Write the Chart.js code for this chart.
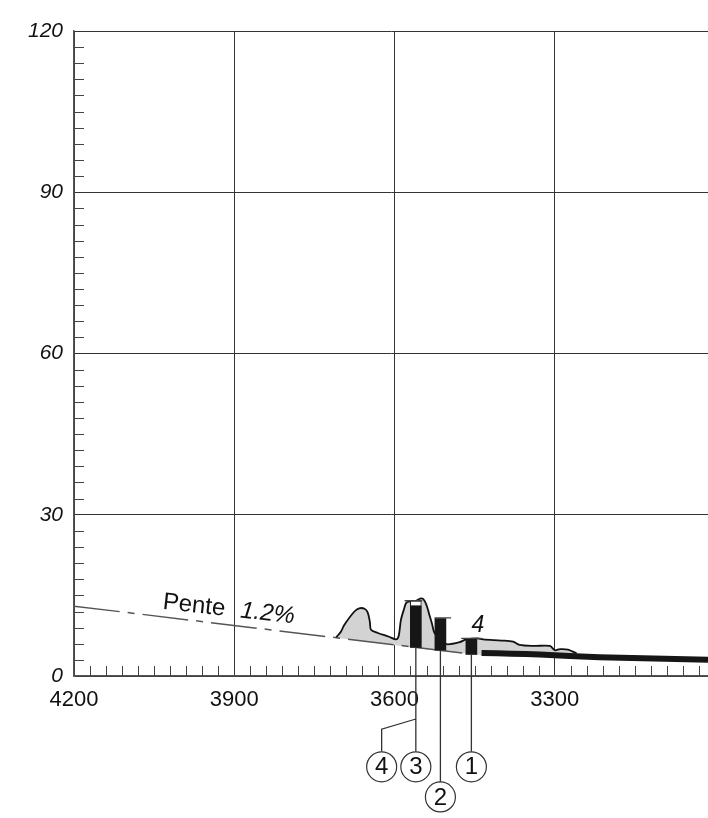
<!DOCTYPE html>
<html>
<head>
<meta charset="utf-8">
<script src="https://cdn.jsdelivr.net/npm/chart.js@4.4.1/dist/chart.umd.min.js"></script>
<style>
html, body { margin: 0; padding: 0; background: #fff; overflow: hidden; }
#wrap { position: relative; width: 708px; height: 818px; }
#profil { display: block; }
</style>
</head>
<body>
<div id="wrap"><canvas id="profil"></canvas></div>
<script>
// axes : distance (axe inversé) et hauteur
const xTicks = [3300, 3600, 3900, 4200];
const yTicks = [0, 30, 60, 90, 120];
const xRange = [3013, 4200];
const yRange = [0, 120];
const xMinorStep = 30;
const yMinorStep = 3;

// pente 1.2%
const penteX = [4200, 3465];
const penteY = [13.0, 4.2];

// profil, contour supérieur
const profilX = [3709, 3700, 3694, 3675, 3666, 3656, 3650, 3646, 3644, 3631, 3610, 3597, 3592, 3588, 3582, 3578, 3570, 3560, 3552, 3546, 3540, 3535, 3530, 3525, 3510, 3500, 3478, 3466, 3445, 3434, 3400, 3378, 3366, 3340, 3309, 3300, 3290, 3275, 3259];
const profilY = [7.2, 8.3, 9.5, 12.0, 12.6, 12.5, 11.8, 10.0, 8.6, 8.0, 7.3, 6.8, 7.5, 10.4, 12.5, 13.6, 13.9, 14.0, 14.4, 14.3, 13.2, 11.5, 9.8, 8.0, 6.3, 5.9, 6.3, 6.8, 7.0, 6.8, 6.6, 6.4, 5.8, 5.6, 5.6, 4.8, 5.0, 4.9, 4.2];
// profil, base (retour)
const baseX = [3259, 3437, 3709];
const baseY = [3.8, 3.9, 7.1];

// trait épais
const ligneX = [3437, 3380, 3328, 3216, 3013];
const ligneY = [4.3, 4.15, 4.0, 3.5, 3.0];

// colonnes 3, 2, 1
const colX = [3560, 3514, 3456];
const colBas = [5.3, 4.8, 4.0];
const colHaut = [13.0, 10.7, 6.9];
const capG = [3581, 3525, 3475];
const capD = [3548, 3494, 3437];
const capY = [14.0, 10.8, 7.0];
const blancBas = [13.0];
const blancHaut = [14.0];

// repères numérotés
const repereNum = ['4', '3', '2', '1'];
const repereX = [3624, 3560, 3514, 3456];
const repereY = [-16.9, -16.9, -22.5, -16.9];
const renvoiFin = [-14.1, -19.7, -14.1];
const renvoi4X = [3624, 3624, 3560];
const renvoi4Y = [-14.1, -9.9, -8.0];

// textes
const penteTexte = { x: 4035, y: 12.5 };
const quatreTexte = { x: 3444, y: 8.2 };

const pts = (xs, ys) => xs.map((v, i) => ({ x: v, y: ys[i] }));

const forme = pts(profilX, profilY).concat(pts(baseX, baseY));

const caps = [];
capG.forEach((g, i) => {
    caps.push({ x: g, y: capY[i] }, { x: capD[i], y: capY[i] }, { x: capD[i] - 1, y: null });
});

const renvois = [];
colX.forEach((v, i) => {
    renvois.push({ x: v, y: colBas[i] }, { x: v, y: renvoiFin[i] }, { x: v - 1, y: null });
});
renvois.push(...pts(renvoi4X, renvoi4Y));

const police = '"Liberation Sans", Arial, sans-serif';
const encre = '#111';

const minorTicks = {
    id: 'minorTicks',
    beforeDatasetsDraw(chart) {
        const { ctx, scales: { x, y } } = chart;
        ctx.save();
        ctx.strokeStyle = '#444';
        ctx.lineWidth = 1;
        ctx.beginPath();
        for (let v = Math.ceil(x.min / xMinorStep) * xMinorStep; v <= x.max; v += xMinorStep) {
            if (v % 300 === 0) continue;
            const px = Math.round(x.getPixelForValue(v)) + 0.5;
            ctx.moveTo(px, y.bottom);
            ctx.lineTo(px, y.bottom - 10);
        }
        for (let v = y.min; v <= y.max; v += yMinorStep) {
            if (v % 30 === 0) continue;
            const py = Math.round(y.getPixelForValue(v)) + 0.5;
            ctx.moveTo(x.left, py);
            ctx.lineTo(x.left + 10, py);
        }
        ctx.stroke();
        ctx.restore();
    }
};

const notes = {
    id: 'notes',
    afterDatasetsDraw(chart) {
        const { ctx, scales: { x, y } } = chart;
        ctx.save();
        ctx.fillStyle = encre;
        ctx.textBaseline = 'alphabetic';
        ctx.translate(x.getPixelForValue(penteTexte.x), y.getPixelForValue(penteTexte.y));
        ctx.rotate(0.11);
        ctx.font = '24px ' + police;
        ctx.fillText('Pente', 0, 0);
        ctx.font = 'italic 24px ' + police;
        ctx.fillText('1.2%', 78, 0);
        ctx.restore();

        ctx.save();
        ctx.fillStyle = encre;
        ctx.font = 'italic 23px ' + police;
        ctx.textAlign = 'center';
        ctx.fillText('4', x.getPixelForValue(quatreTexte.x), y.getPixelForValue(quatreTexte.y));

        // cercles des repères (hors zone du graphique)
        const meta = chart.getDatasetMeta(chart.data.datasets.length - 1);
        ctx.font = '24px ' + police;
        ctx.textBaseline = 'middle';
        ctx.strokeStyle = '#333';
        ctx.lineWidth = 1.2;
        meta.data.forEach((p, i) => {
            ctx.beginPath();
            ctx.arc(p.x, p.y, 15, 0, Math.PI * 2);
            ctx.fillStyle = '#fff';
            ctx.fill();
            ctx.stroke();
            ctx.fillStyle = encre;
            ctx.fillText(repereNum[i], p.x, p.y + 1);
        });
        ctx.restore();
    }
};

const ctx = document.getElementById('profil');
const chart = new Chart(ctx, {
    type: 'line',
    data: {
        datasets: [
            {
                label: 'profil',
                data: forme,
                fill: 'shape',
                backgroundColor: '#d3d3d3',
                borderWidth: 0,
                pointRadius: 0,
                tension: 0.3,
                order: 10
            },
            {
                label: 'pente',
                data: pts(penteX, penteY),
                borderColor: '#555',
                borderWidth: 1.5,
                borderDash: [46, 8, 7, 8],
                pointRadius: 0,
                order: 9
            },
            {
                label: 'contour',
                data: pts(profilX, profilY),
                borderColor: '#111',
                borderWidth: 1.8,
                pointRadius: 0,
                tension: 0.3,
                order: 8
            },
            {
                label: 'trait',
                data: pts(ligneX, ligneY),
                borderColor: '#161616',
                borderWidth: 6,
                pointRadius: 0,
                tension: 0.2,
                order: 7
            },
            {
                type: 'bar',
                label: 'blanc',
                data: [{ x: colX[0], y: [blancBas[0], blancHaut[0]] }],
                backgroundColor: '#fff',
                borderColor: '#222',
                borderWidth: 1,
                borderSkipped: false,
                barThickness: 11,
                grouped: false,
                order: 6
            },
            {
                type: 'bar',
                label: 'colonnes',
                data: colX.map((v, i) => ({ x: v, y: [colBas[i], colHaut[i]] })),
                backgroundColor: '#161616',
                borderWidth: 0,
                barThickness: 11,
                grouped: false,
                order: 5
            },
            {
                label: 'caps',
                data: caps,
                borderColor: '#444',
                borderWidth: 1.3,
                pointRadius: 0,
                spanGaps: false,
                order: 4
            },
            {
                label: 'renvois',
                data: renvois,
                borderColor: '#333',
                borderWidth: 1.3,
                pointRadius: 0,
                spanGaps: false,
                clip: false,
                order: 3
            },
            {
                label: 'reperes',
                data: pts(repereX, repereY),
                showLine: false,
                pointRadius: 0,
                clip: false,
                order: 2
            }
        ]
    },
    options: {
        responsive: true,
        maintainAspectRatio: false,
        animation: false,
        events: [],
        layout: { padding: { top: 31, right: 0, bottom: 0, left: 0 } },
        plugins: {
            legend: { display: false },
            tooltip: { enabled: false }
        },
        scales: {
            x: {
                type: 'linear',
                reverse: true,
                min: xRange[0],
                max: xRange[1],
                offset: false,
                afterBuildTicks: (s) => { s.ticks = xTicks.map(v => ({ value: v })); },
                afterFit: (s) => { s.height = 142; },
                grid: { color: '#333', lineWidth: 1, drawTicks: false, offset: false },
                border: { display: true, color: '#555', width: 1.5 },
                ticks: {
                    autoSkip: false,
                    maxRotation: 0,
                    padding: 11,
                    color: encre,
                    font: { family: police, size: 22 },
                    callback: (v) => String(v)
                }
            },
            y: {
                min: yRange[0],
                max: yRange[1],
                afterBuildTicks: (s) => { s.ticks = yTicks.map(v => ({ value: v })); },
                afterFit: (s) => { s.width = 74; },
                grid: { color: '#333', lineWidth: 1, drawTicks: false },
                border: { display: true, color: '#555', width: 1.5 },
                ticks: {
                    padding: 11,
                    color: encre,
                    font: { family: police, size: 21, style: 'italic' },
                    callback: (v) => String(v)
                }
            }
        }
    },
    plugins: [minorTicks, notes]
});
</script>
</body>
</html>
